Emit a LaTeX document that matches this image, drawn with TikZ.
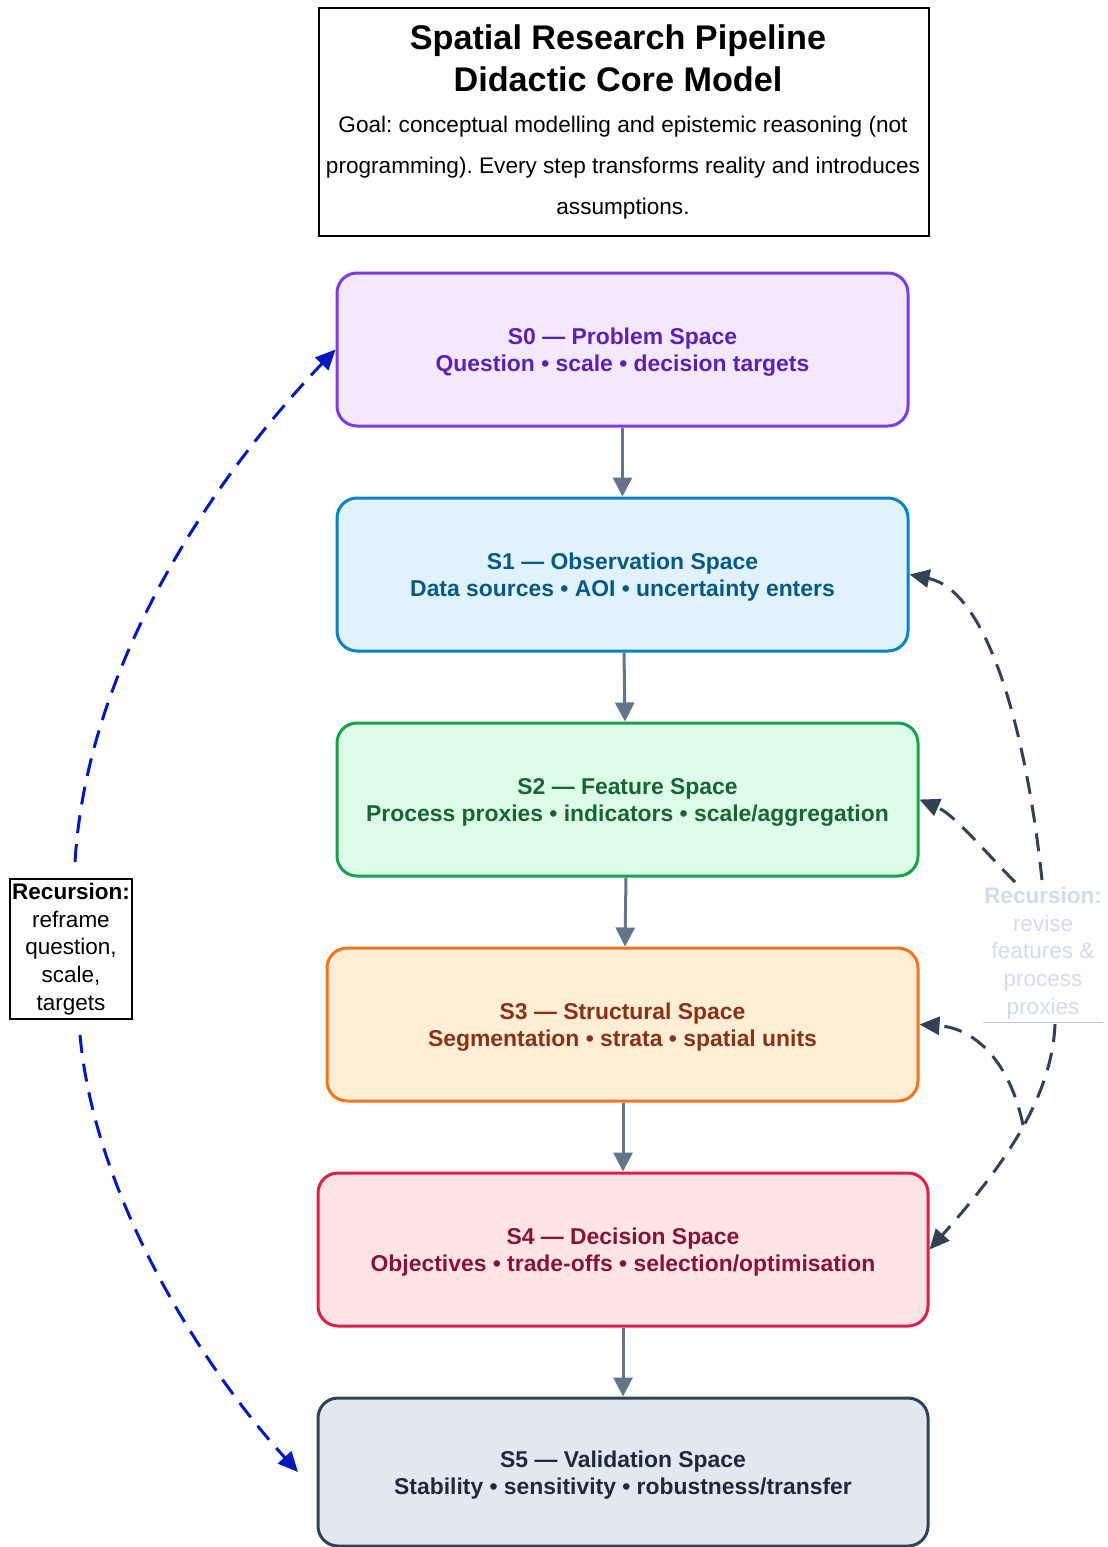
\documentclass[tikz,border=0pt]{standalone}
\usepackage{fontspec}
\setmainfont{Liberation Sans}
\frenchspacing
\usetikzlibrary{arrows.meta}
\definecolor{bPurple}{HTML}{7C3AED}\definecolor{fPurple}{HTML}{F3E8FF}\definecolor{tPurple}{HTML}{5B21B6}
\definecolor{bBlue}{HTML}{0284C7}\definecolor{fBlue}{HTML}{E0F2FE}\definecolor{tBlue}{HTML}{075985}
\definecolor{bGreen}{HTML}{16A34A}\definecolor{fGreen}{HTML}{DCFCE7}\definecolor{tGreen}{HTML}{166534}
\definecolor{bOrange}{HTML}{F97316}\definecolor{fOrange}{HTML}{FFEDD5}\definecolor{tOrange}{HTML}{8A3214}
\definecolor{bRed}{HTML}{E11D48}\definecolor{fRed}{HTML}{FFE4E6}\definecolor{tRed}{HTML}{881337}
\definecolor{bSlate}{HTML}{334155}\definecolor{fSlate}{HTML}{E2E8F0}\definecolor{tSlate}{HTML}{1E293B}
\definecolor{flowgray}{HTML}{64748B}
\definecolor{loopblue}{RGB}{0,25,190}
\definecolor{loopdark}{HTML}{334155}
\definecolor{fadetext}{HTML}{D3DBE9}
\newcommand{\topstrut}{\rule{0pt}{22pt}}
\begin{document}
\begin{tikzpicture}[x=1pt,y=-1pt,
  spacebox/.style={rounded corners=20pt, line width=3pt, align=center,
    inner sep=0pt, font=\fontsize{22.9}{27}\selectfont\bfseries},
  flow/.style={draw=flowgray, line width=3pt, -{Triangle[length=19pt,width=19pt]}},
  blueloop/.style={draw=loopblue, line width=3pt, dash pattern=on 18pt off 11pt,
    -{Triangle[length=20pt,width=18pt]}},
  darkloop/.style={draw=loopdark, line width=3pt, dash pattern=on 18pt off 11pt,
    -{Triangle[length=20pt,width=18pt]}},
  note/.style={align=center, inner sep=0pt, font=\fontsize{22.5}{27.7}\selectfont}]
\useasboundingbox (0,0) rectangle (1108,1547);

% title box
\node[draw=black, line width=1.5pt, minimum width=610pt, minimum height=228pt, inner sep=0pt] (title) at (624,122) {};
\node[align=center, inner sep=0pt, font=\fontsize{34.2}{42}\selectfont\bfseries] (heading) at (618,58.5)
  {Spatial Research Pipeline\\Didactic Core Model};
\node[align=center, inner sep=0pt, font=\fontsize{22.6}{41}\selectfont] (goal) at (623,168)
  {Goal: conceptual modelling and epistemic reasoning (not\\programming). Every step transforms reality and introduces\\assumptions.};

% stage boxes
\node[spacebox, draw=bPurple, fill=fPurple, text=tPurple, minimum width=571pt, minimum height=153pt] (s0) at (622.5,349.5)
  {\topstrut S0 — Problem Space\\Question • scale • decision targets};
\node[spacebox, draw=bBlue, fill=fBlue, text=tBlue, minimum width=571pt, minimum height=153pt] (s1) at (622.5,574.5)
  {\topstrut S1 — Observation Space\\Data sources • AOI • uncertainty enters};
\node[spacebox, draw=bGreen, fill=fGreen, text=tGreen, minimum width=581pt, minimum height=153pt] (s2) at (627.5,799.5)
  {\topstrut S2 — Feature Space\\Process proxies • indicators • scale/aggregation};
\node[spacebox, draw=bOrange, fill=fOrange, text=tOrange, minimum width=591pt, minimum height=153pt] (s3) at (622.5,1024.5)
  {\topstrut S3 — Structural Space\\Segmentation • strata • spatial units};
\node[spacebox, draw=bRed, fill=fRed, text=tRed, minimum width=610pt, minimum height=153pt] (s4) at (623,1249.5)
  {\topstrut S4 — Decision Space\\Objectives • trade-offs • selection/optimisation};
\node[spacebox, draw=bSlate, fill=fSlate, text=tSlate, minimum width=610pt, minimum height=148pt] (s5) at (623,1472)
  {\topstrut S5 — Validation Space\\Stability • sensitivity • robustness/transfer};

% main flow
\draw[flow] (s0.south) -- (s1.north);
\draw[flow] ([xshift=1.5pt]s1.south) -- ([xshift=-2.5pt]s2.north);
\draw[flow] ([xshift=-1.5pt]s2.south) -- ([xshift=2.5pt]s3.north);
\draw[flow] ([xshift=0.5pt]s3.south) -- (s4.north);
\draw[flow] (s4.south) -- (s5.north);

% left recursion
\node[note, draw=black, line width=1.5pt, fill=white, minimum width=122pt, minimum height=140pt] (lrec) at (71,949)
  {\textbf{Recursion:}\\reframe\\question,\\scale,\\targets};
\coordinate (lup) at (75,862);
\coordinate (ldown) at (80,1035);
\coordinate (s5tip) at (298,1472);
\draw[blueloop] (lup) .. controls (88,650) and (230,460) .. (s0.west);
\draw[blueloop] (ldown) .. controls (95,1200) and (205,1370) .. (s5tip);

% right recursion
\node[note, text=fadetext, minimum width=120pt] (rrec) at (1043,953)
  {\textbf{Recursion:}\\revise\\features \&\\process\\proxies};
\draw[draw=gray!45, line width=0.8pt] (983,1022) -- (1103,1022);
\coordinate (ra) at (1042,880);
\coordinate (rb) at (1015,882);
\coordinate (rc) at (1055,1024);
\coordinate (rd) at (1023,1125);
\draw[darkloop] (ra) .. controls (1025,720) and (985,590) .. (s1.east);
\draw[darkloop] (rb) .. controls (985,852) and (955,815) .. (s2.east);
\draw[darkloop] (rc) .. controls (1052,1100) and (1000,1170) .. (s4.east);
\draw[darkloop] (rd) .. controls (1010,1062) and (975,1028) .. (s3.east);
\end{tikzpicture}
\end{document}
